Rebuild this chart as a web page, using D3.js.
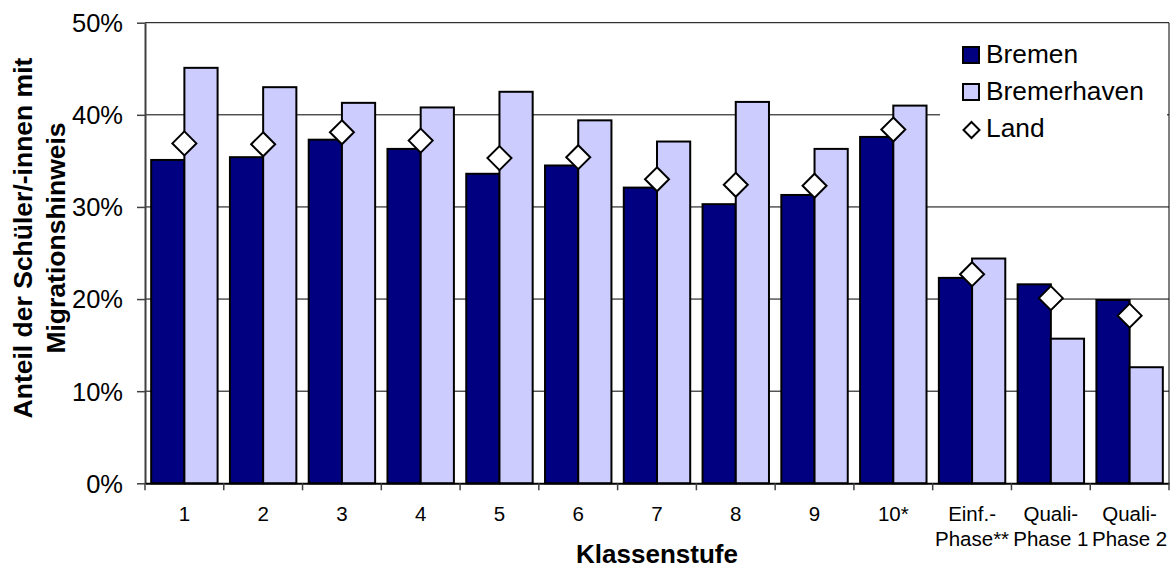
<!DOCTYPE html>
<html>
<head>
<meta charset="utf-8">
<script src="https://cdn.jsdelivr.net/npm/d3@7/dist/d3.min.js"></script>
<style>
  html, body { margin: 0; padding: 0; background: #fff; }
  svg { display: block; font-family: "Liberation Sans", Arial, sans-serif; }
</style>
</head>
<body>
<svg id="chart" width="1176" height="568"></svg>
<script>
// Anteil der Schüler/-innen mit Migrationshinweis nach Klassenstufe
const categories = ["1", "2", "3", "4", "5", "6", "7", "8", "9", "10*",
  "Einf.-\nPhase**", "Quali-\nPhase 1", "Quali-\nPhase 2"];
const bremen      = [0.351, 0.354, 0.373, 0.363, 0.336, 0.345, 0.321, 0.303, 0.313, 0.376, 0.223, 0.216, 0.199];
const bremerhaven = [0.451, 0.430, 0.413, 0.408, 0.425, 0.394, 0.371, 0.414, 0.363, 0.410, 0.244, 0.157, 0.126];
const land        = [0.369, 0.368, 0.381, 0.372, 0.353, 0.354, 0.330, 0.324, 0.323, 0.384, 0.227, 0.201, 0.182];
const yTicks = [0, 0.1, 0.2, 0.3, 0.4, 0.5];
const seriesNames = ["Bremen", "Bremerhaven", "Land"];
const colors = { Bremen: "#000080", Bremerhaven: "#CCCCFF", Land: "#FFFFFF" };

const svg = d3.select("#chart");
const plotLeft = 145, plotRight = 1169, plotTop = 22.7, plotBottom = 483.3;

const x0 = d3.scaleBand().domain(categories).range([plotLeft, plotRight]).padding(0);
const x1 = d3.scaleBand().domain(["Bremen", "Bremerhaven"]).range([0, x0.bandwidth()])
  .paddingInner(0).paddingOuter(0.186);
const y = d3.scaleLinear().domain([0, 0.5]).range([plotBottom, plotTop]);

// horizontal gridlines
svg.append("g").selectAll("line").data(yTicks.filter(d => d > 0)).join("line")
  .attr("x1", plotLeft).attr("x2", plotRight)
  .attr("y1", d => y(d)).attr("y2", d => y(d))
  .attr("stroke", "#000").attr("stroke-width", 1);

// right frame edge
svg.append("line").attr("x1", plotRight).attr("x2", plotRight).attr("y1", plotTop).attr("y2", plotBottom)
  .attr("stroke", "#000").attr("stroke-width", 1);

// bars
const rows = categories.map((c, i) => ({ c, Bremen: bremen[i], Bremerhaven: bremerhaven[i], Land: land[i] }));
const groups = svg.append("g").selectAll("g").data(rows).join("g")
  .attr("transform", d => `translate(${x0(d.c)},0)`);
groups.selectAll("rect").data(d => ["Bremen", "Bremerhaven"].map(k => ({ k, v: d[k] }))).join("rect")
  .attr("x", d => x1(d.k)).attr("width", x1.bandwidth())
  .attr("y", d => y(d.v)).attr("height", d => plotBottom - y(d.v))
  .attr("fill", d => colors[d.k]).attr("stroke", "#000").attr("stroke-width", 2);

// Land markers (diamonds)
svg.append("g").selectAll("path").data(rows).join("path")
  .attr("d", "M0,-12L12,0L0,12L-12,0Z")
  .attr("transform", d => `translate(${x0(d.c) + x0.bandwidth() / 2},${y(d.Land)})`)
  .attr("fill", "#fff").attr("stroke", "#000").attr("stroke-width", 2);

// y axis
const yAxis = svg.append("g").attr("transform", `translate(${plotLeft},0)`)
  .call(d3.axisLeft(y).tickValues(yTicks).tickFormat(d3.format(".0%")).tickSize(8).tickPadding(14).tickSizeOuter(0));
yAxis.select(".domain").attr("stroke", "#404040").attr("stroke-width", 2);
yAxis.selectAll(".tick line").attr("stroke", "#404040").attr("stroke-width", 1.5);
yAxis.selectAll(".tick text").attr("font-size", 25.5).attr("fill", "#000")
  .attr("font-family", "Liberation Sans, Arial, sans-serif").attr("dy", "0.35em");

// x axis baseline and boundary ticks
const xAxis = svg.append("g").attr("transform", `translate(0,${plotBottom})`)
  .call(d3.axisBottom(x0).tickSize(0).tickSizeOuter(0).tickFormat(""));
xAxis.select(".domain").attr("stroke", "#000").attr("stroke-width", 2);
const bounds = categories.map(c => x0(c)).concat([plotRight]);
svg.append("g").selectAll("line").data(bounds).join("line")
  .attr("x1", d => d).attr("x2", d => d).attr("y1", plotBottom).attr("y2", plotBottom + 7)
  .attr("stroke", "#404040").attr("stroke-width", 1.5);

// category labels, some on two lines
const labels = svg.append("g").selectAll("text").data(categories).join("text")
  .attr("x", d => x0(d) + x0.bandwidth() / 2).attr("y", 521)
  .attr("text-anchor", "middle").attr("font-size", 20.5).attr("fill", "#000");
labels.each(function (d) {
  const t = d3.select(this);
  d.split("\n").forEach((line, i) => {
    t.append("tspan").attr("x", x0(d) + x0.bandwidth() / 2).attr("dy", i === 0 ? 0 : 25).text(line);
  });
});

// axis titles
svg.append("text").attr("x", (plotLeft + plotRight) / 2).attr("y", 563)
  .attr("text-anchor", "middle").attr("font-size", 26).attr("font-weight", "bold")
  .text("Klassenstufe");
const yTitle = svg.append("text").attr("transform", "translate(32,238) rotate(-90)")
  .attr("text-anchor", "middle").attr("font-size", 26.5).attr("font-weight", "bold");
yTitle.append("tspan").attr("x", 0).attr("y", 0).text("Anteil der Schüler/-innen mit");
yTitle.append("tspan").attr("x", 0).attr("y", 33).text("Migrationshinweis");

// legend
const legend = svg.append("g");
legend.append("rect").attr("x", 940).attr("y", 28).attr("width", 227).attr("height", 122).attr("fill", "#fff");
const ly = [63, 100, 137];
seriesNames.forEach((name, i) => {
  if (name === "Land") {
    legend.append("path").attr("d", "M0,-8L8,0L0,8L-8,0Z")
      .attr("transform", `translate(971.5,${ly[i] - 7})`)
      .attr("fill", "#fff").attr("stroke", "#000").attr("stroke-width", 2);
  } else {
    legend.append("rect").attr("x", 963).attr("y", ly[i] - 16).attr("width", 16).attr("height", 16)
      .attr("fill", colors[name]).attr("stroke", "#000").attr("stroke-width", 2);
  }
  legend.append("text").attr("x", 986).attr("y", ly[i]).attr("font-size", 26.3).attr("fill", "#000").text(name);
});
</script>
</body>
</html>
